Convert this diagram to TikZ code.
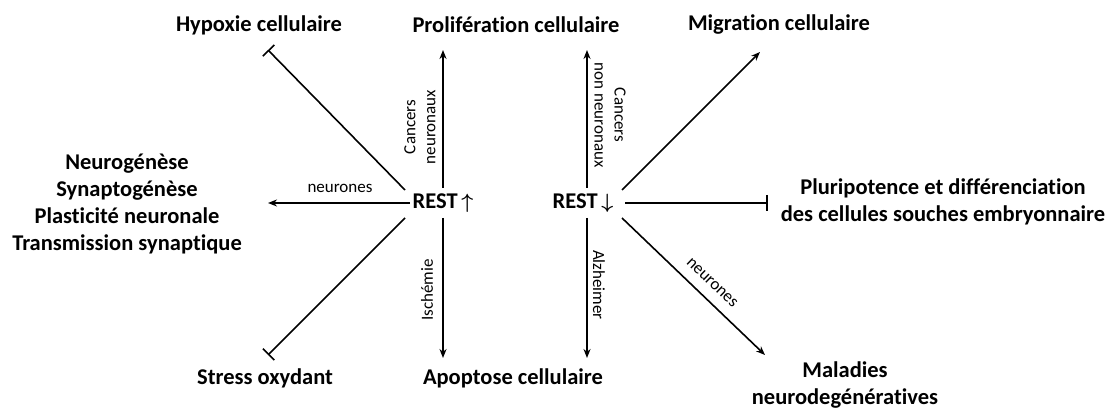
\documentclass[tikz,border=0pt]{standalone}
\usepackage{amsmath}
\usepackage{fontspec}
\setmainfont{Carlito}[Ligatures=NoCommon]
\usetikzlibrary{arrows.meta}
\begin{document}
\begin{tikzpicture}[x=1pt,y=1pt,
  big/.style={font=\fontsize{22.5}{27}\selectfont\bfseries, align=center, inner sep=0pt},
  small/.style={font=\fontsize{17}{20}\selectfont, align=center, inner sep=0pt},
  con/.style={line width=1.6pt},
  act/.style={con, -{Stealth[length=9pt,width=7pt]}},
  inh/.style={con, -{Bar[width=16pt]}}]
\useasboundingbox (0,0) rectangle (1110,409);
% central nodes
\node[big] (up) at (443,206) {REST\,$\boldsymbol{\uparrow}$};
\node[big] (down) at (583,206) {REST\,$\boldsymbol{\downarrow}$};
% targets
\node[big] (hyp) at (259,384) {Hypoxie cellulaire};
\node[big] (pro) at (516,384) {Prolifération cellulaire};
\node[big] (mig) at (779,384) {Migration cellulaire};
\node[big] (neu) at (127,205) {Neurogénèse\\Synaptogénèse\\Plasticité neuronale\\Transmission synaptique};
\node[big] (plu) at (943,207) {Pluripotence et différenciation\\des cellules souches embryonnaire};
\node[big] (str) at (265,31) {Stress oxydant};
\node[big] (apo) at (513,31) {Apoptose cellulaire};
\node[big] (mal) at (845,24) {Maladies\\neurodegénératives};
% endpoints
\coordinate (lvt0) at (443,221); \coordinate (lvt) at (443,359);
\coordinate (lvb0) at (443,191); \coordinate (lvb) at (443,51);
\coordinate (ldu0) at (405,219); \coordinate (ldu) at (268,359);
\coordinate (lh0) at (410,206); \coordinate (lh) at (268,206);
\coordinate (ldd0) at (405,191); \coordinate (ldd) at (268,54);
\coordinate (rvt0) at (587,221); \coordinate (rvt) at (587,359);
\coordinate (rvb0) at (587,191); \coordinate (rvb) at (587,51);
\coordinate (rdu0) at (622,219); \coordinate (rdu) at (760,357);
\coordinate (rh0) at (625,206); \coordinate (rh) at (768,206);
\coordinate (rdd0) at (622,191); \coordinate (rdd) at (765,54);
% connectors
\draw[act] (lvt0) -- (lvt);
\draw[act] (lvb0) -- (lvb);
\draw[inh] (ldu0) -- (ldu);
\draw[act] (lh0) -- (lh);
\draw[inh] (ldd0) -- (ldd);
\draw[act] (rvt0) -- (rvt);
\draw[act] (rvb0) -- (rvb);
\draw[act] (rdu0) -- (rdu);
\draw[inh] (rh0) -- (rh);
\draw[act] (rdd0) -- (rdd);
% labels
\node[small] (l1) at (340,221) {neurones};
\node[small, rotate=90] (l2) at (420,282) {Cancers\\neuronaux};
\node[small, rotate=-90] (l3) at (610,294) {Cancers\\non neuronaux};
\node[small, rotate=90] (l4) at (427,119) {Ischémie};
\node[small, rotate=-90] (l5) at (599,124) {Alzheimer};
\node[small, rotate=-44] (l6) at (712,126) {neurones};
\end{tikzpicture}
\end{document}
